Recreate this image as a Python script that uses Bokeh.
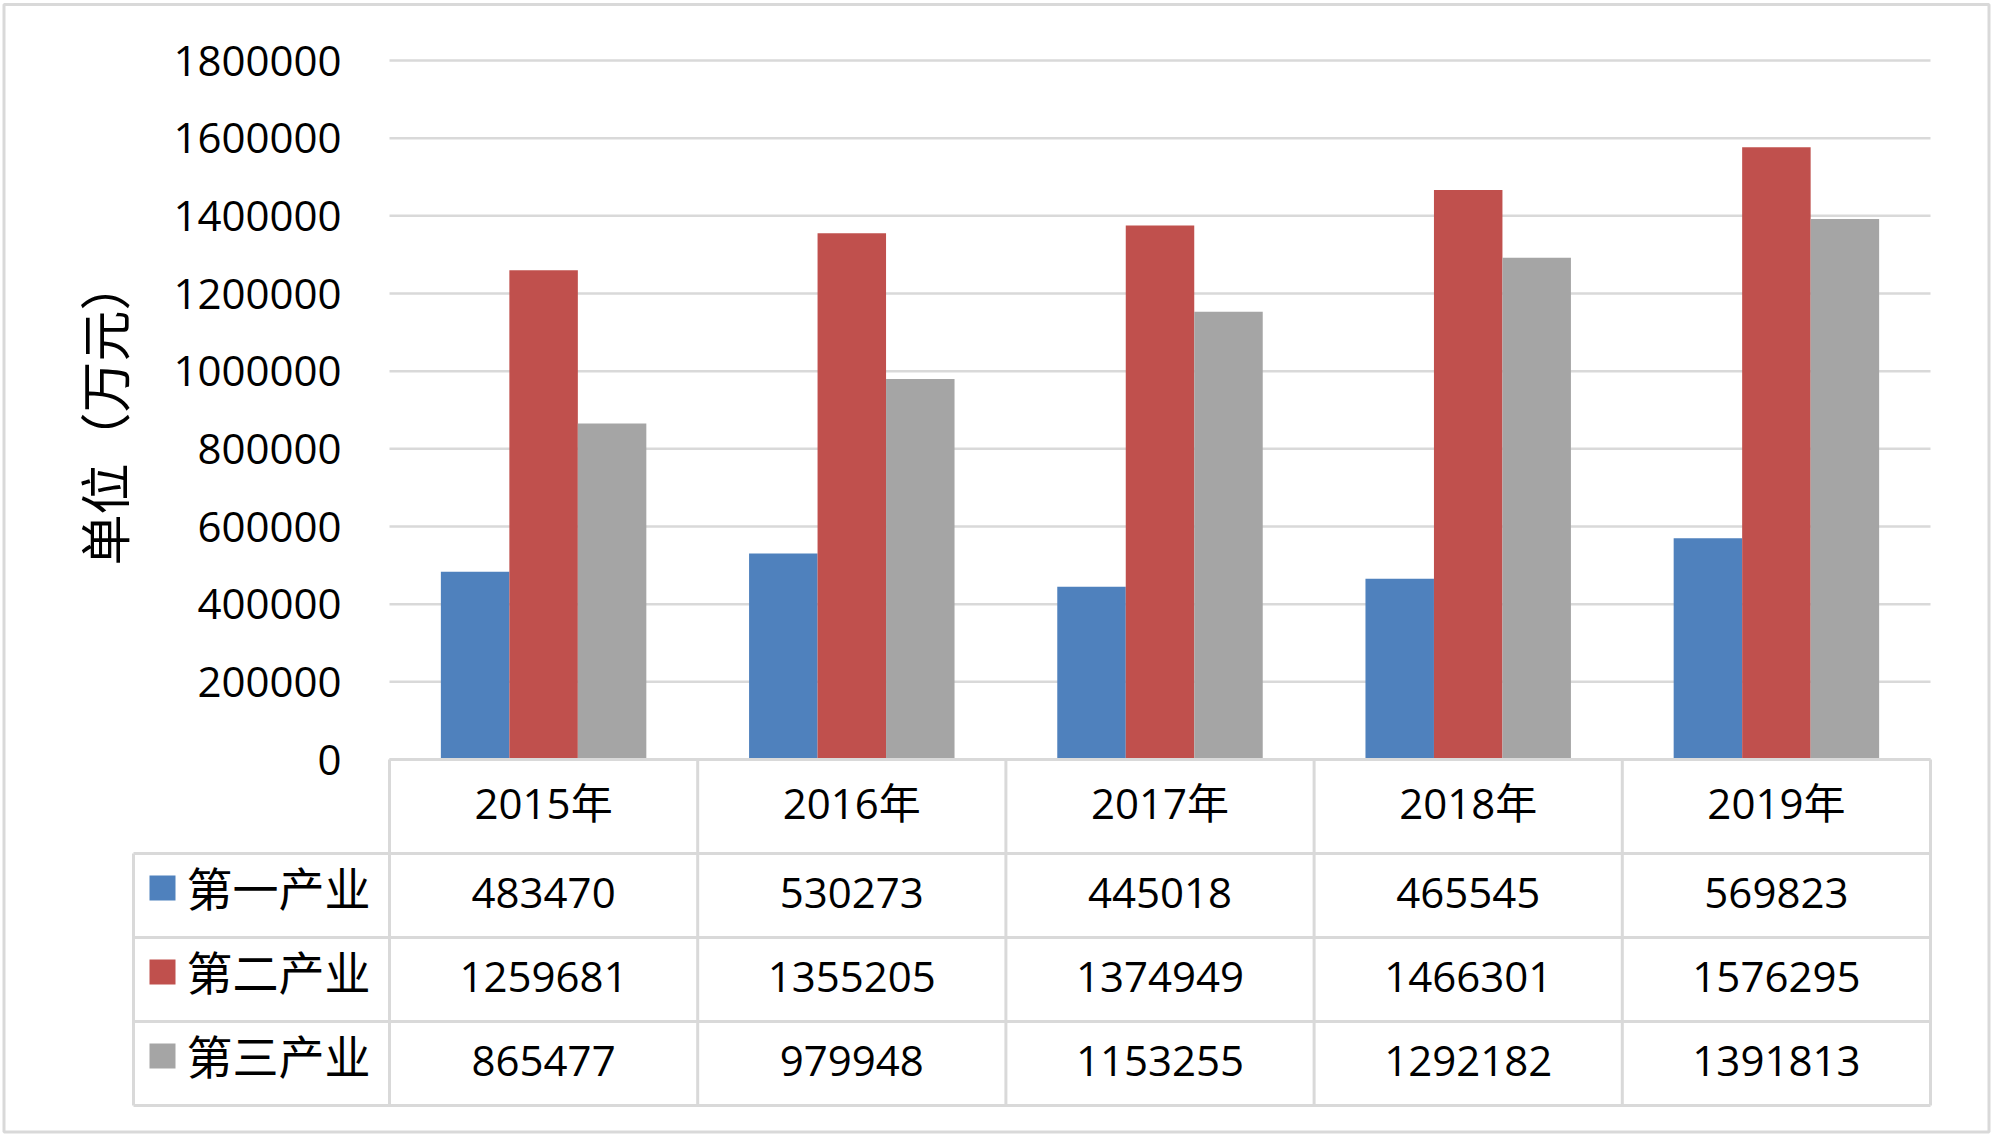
from bokeh.plotting import figure
from bokeh.models import Range1d, ColumnDataSource
from bokeh.core.properties import value
from bokeh.embed import file_html
from bokeh.resources import INLINE
import math

# ---------------- data ----------------
years = ["2015年", "2016年", "2017年", "2018年", "2019年"]
series_names = ["第一产业", "第二产业", "第三产业"]
primary = [483470, 530273, 445018, 465545, 569823]
secondary = [1259681, 1355205, 1374949, 1466301, 1576295]
tertiary = [865477, 979948, 1153255, 1292182, 1391813]
y_ticks = [0, 200000, 400000, 600000, 800000, 1000000, 1200000, 1400000, 1600000, 1800000]
y_title = "单位（万元）"
colors = ["#4F81BD", "#C0504D", "#A5A5A5"]
series = [primary, secondary, tertiary]

# ---------------- layout (screen px of the 2000x1145 page) ----------------
W, H = 2000, 1145
OX, OY = 0, 0
plot_l, plot_r = 389, 1930
top_tick_y, zero_y = 60, 759
y_max = y_ticks[-1]
n = len(years)
cat_px = (plot_r - plot_l) / n
units_per_px = y_max / (zero_y - top_tick_y)

x0 = -0.5 - (plot_l - OX) / cat_px
x1 = n - 0.5 + (OX + W - plot_r) / cat_px
y0 = -(OY + H - zero_y) * units_per_px
y1 = y_max + (top_tick_y - OY) * units_per_px

p = figure(width=W, height=H, output_backend="svg", toolbar_location=None,
           x_range=Range1d(x0, x1), y_range=Range1d(y0, y1),
           x_axis_location=None, y_axis_location=None,
           min_border=0, min_border_left=0, min_border_right=0,
           min_border_top=0, min_border_bottom=0)
p.extra_x_ranges = {"px": Range1d(OX, OX + W)}
p.extra_y_ranges = {"px": Range1d(OY + H, OY)}
p.grid.visible = False
p.outline_line_color = None
p.background_fill_color = "white"
p.border_fill_color = "white"

GRID = "#D9D9D9"
NUM_FONT = value("'Open Sans', 'Noto Sans CJK SC'")
CJK_FONT = value("Noto Sans CJK SC")

# gridlines
p.segment(x0=[-0.5] * len(y_ticks), x1=[n - 0.5] * len(y_ticks), y0=y_ticks, y1=y_ticks,
          line_color=GRID, line_width=2.5)

# bars
idx = list(range(n))
bw = 1 / 4.5
for k, (vals, col) in enumerate(zip(series, colors)):
    off = (k - 1) * bw
    src = ColumnDataSource(dict(x=[i + off for i in idx], top=vals))
    p.vbar(x="x", top="top", bottom=0, width=bw, source=src,
           fill_color=col, line_color=None)

# y tick labels
p.text(x=[-0.5 - (plot_l - 341) / cat_px] * len(y_ticks), y=y_ticks,
       text=[str(t) for t in y_ticks], text_align="right", text_baseline="middle",
       text_font=NUM_FONT, text_font_size=value("42px"), text_color="black")

# y title
p.text(x=[102], y=[412], text=[y_title], angle=math.pi / 2,
       x_range_name="px", y_range_name="px",
       text_align="center", text_baseline="middle",
       text_font=CJK_FONT, text_font_size=value("51px"), text_color="black")

# ---------------- data table ----------------
header_top, header_bot = 759, 853
row_h = 84
row_tops = [header_bot + r * row_h for r in range(len(series) + 1)]
table_bot = row_tops[-1]
leg_l = 133
TL = 3

# vertical lines of data columns
bounds = [i - 0.5 for i in range(n + 1)]
p.segment(x0=bounds, x1=bounds, y0=[header_top] * len(bounds), y1=[table_bot] * len(bounds),
          y_range_name="px", line_color=GRID, line_width=TL)
# legend column left line
p.segment(x0=[leg_l], x1=[leg_l], y0=[header_bot], y1=[table_bot],
          x_range_name="px", y_range_name="px", line_color=GRID, line_width=TL)
# horizontal lines
p.segment(x0=[leg_l] * len(row_tops), x1=[plot_r] * len(row_tops), y0=row_tops, y1=row_tops,
          x_range_name="px", y_range_name="px", line_color=GRID, line_width=TL)
p.segment(x0=[plot_l], x1=[plot_r], y0=[header_top], y1=[header_top],
          x_range_name="px", y_range_name="px", line_color=GRID, line_width=TL)

# header year labels
p.text(x=idx, y=[(header_top + header_bot) / 2 - 4.5] * n, text=years, y_range_name="px",
       text_align="center", text_baseline="middle",
       text_font=NUM_FONT, text_font_size=value("42px"), text_color="black")

# rows
for r, (name, vals, col) in enumerate(zip(series_names, series, colors)):
    cy = row_tops[r] + row_h / 2
    p.text(x=idx, y=[cy - 2.5] * n, text=[str(v) for v in vals], y_range_name="px",
           text_align="center", text_baseline="middle",
           text_font=NUM_FONT, text_font_size=value("42px"), text_color="black")
    p.rect(x=[162], y=[cy - 7.5], width=26, height=25, x_range_name="px", y_range_name="px",
           fill_color=col, line_color=None)
    p.text(x=[186], y=[cy - 9.5], text=[name], x_range_name="px", y_range_name="px",
           text_align="left", text_baseline="middle",
           text_font=CJK_FONT, text_font_size=value("46px"), text_color="black")

# outer border
p.quad(left=[3.5], right=[1988.5], top=[4], bottom=[1131.5], x_range_name="px", y_range_name="px",
       fill_color=None, line_color=GRID, line_width=3)

open("out.html", "w").write(file_html(p, INLINE))
